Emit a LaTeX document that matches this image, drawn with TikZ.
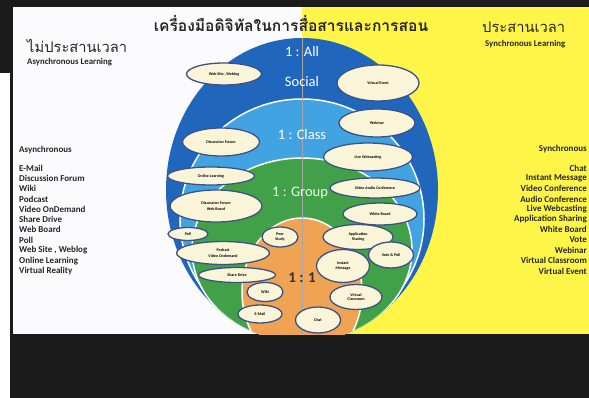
\documentclass[tikz,border=0pt]{standalone}
\usepackage{fontspec}
\setmainfont{Carlito}
\newfontfamily\thaifont[Script=Thai]{Loma}
\usetikzlibrary{shapes.geometric}
\definecolor{darkbg}{HTML}{1B1B1B}
\definecolor{slidewhite}{HTML}{FBFBFD}
\definecolor{slideyellow}{HTML}{FFF548}
\definecolor{blueD}{HTML}{2166BD}
\definecolor{blueL}{HTML}{42A3E3}
\definecolor{greenC}{HTML}{41A148}
\definecolor{orangeC}{HTML}{F0A353}
\definecolor{cream}{HTML}{FAF4D8}
\definecolor{bubedge}{HTML}{3D5283}
\tikzset{
  bub/.style={ellipse, draw=bubedge, line width=1.3pt, fill=cream, inner sep=0pt,
    font=\bfseries\fontsize{4}{4.6}\selectfont, align=center, text=black},
  layerlbl/.style={font=\fontsize{14.5}{14.5}\selectfont, text=white},
  listtxt/.style={font=\bfseries\fontsize{9}{10}\selectfont, inner sep=0pt, text=black!85},
  thaititle/.style={font=\thaifont\fontsize{14.7}{14.7}\selectfont, inner sep=0pt, text=black!85},
  subtitle/.style={font=\bfseries\fontsize{8.8}{9}\selectfont, inner sep=0pt, text=black!85}
}
\begin{document}
\begin{tikzpicture}[x=1pt,y=-1pt]
\useasboundingbox (0,0) rectangle (589,398);
% background
\fill[darkbg] (0,0) rectangle (589,398);
\fill[white] (0,73) rectangle (10,398);
\fill[slidewhite] (13,7) rectangle (302,334);
\fill[slideyellow] (302,7) rectangle (589,334);
% layers
\begin{scope}
  \clip (13,7) rectangle (589,334);
  \fill[blueD] (302,190) ellipse [x radius=136pt, y radius=152pt];
  \clip (302,190) ellipse [x radius=136pt, y radius=152pt];
  \filldraw[fill=blueL, draw=white, line width=1.5pt] (302,219) ellipse [x radius=122pt, y radius=120pt];
  \filldraw[fill=greenC, draw=white, line width=1.5pt] (302,250) ellipse [x radius=110pt, y radius=92pt];
  \filldraw[fill=orangeC, draw=white, line width=1.5pt] (302,292) ellipse [x radius=60pt, y radius=74pt];
  \draw[gray!70, line width=0.5pt] (302,30) -- (302,334);
\end{scope}
% layer labels
\node[layerlbl] (lall) at (302,52) {1 : All};
\node[layerlbl] (lsoc) at (302,82) {Social};
\node[layerlbl] (lcls) at (302,135) {1 : Class};
\node[layerlbl, text=green!10!white] (lgrp) at (300,193) {1 : Group};
\node[font=\bfseries\fontsize{15}{15}\selectfont, text=black!80] (lone) at (302,278) {1 : 1};
% titles
\node[thaititle, font=\thaifont\bfseries\fontsize{15.6}{15.6}\selectfont] (title) at (291,24) {เครื่องมือดิจิทัลในการสื่อสารและการสอน};
\node[thaititle, anchor=west] (ltitle) at (27,46) {ไม่ประสานเวลา};
\node[subtitle, anchor=west] (lsub) at (27,62) {Asynchronous Learning};
\node[thaititle, anchor=west] (rtitle) at (482,27.5) {ประสานเวลา};
\node[subtitle, anchor=west] (rsub) at (485,44.5) {Synchronous Learning};
% left list
\node[listtxt, anchor=west] (lhead) at (19,150) {Asynchronous};
\foreach \t [count=\i from 0] in {E-Mail, Discussion Forum, Wiki, Podcast, Video OnDemand, Share Drive, Web Board, Poll, {Web Site , Weblog}, Online Learning, Virtual Reality}
  \node[listtxt, anchor=west] (la\i) at (19,168+10.3*\i) {\t};
% right list
\node[listtxt, anchor=east] (rhead) at (587,149) {Synchronous};
\foreach \t [count=\i from 0] in {Chat, Instant Message, Video Conference, Audio Conference, Live Webcasting, Application Sharing, White Board, Vote, Webinar, Virtual Classroom, Virtual Event}
  \node[listtxt, anchor=east] (ra\i) at (587,168+10.3*\i) {\t};
% bubbles
\node[bub, minimum width=75pt, minimum height=22pt] (b1) at (224,74) {Web Site , Weblog};
\node[bub, minimum width=82pt, minimum height=36pt] (b2) at (378,83) {Virtual Event};
\node[bub, minimum width=76pt, minimum height=28pt] (b3) at (377,123) {Webinar};
\node[bub, minimum width=77pt, minimum height=28pt] (b4) at (221,142) {Discussion Forum};
\node[bub, minimum width=89pt, minimum height=28pt] (b5) at (368,157) {Live Webcasting};
\node[bub, minimum width=87pt, minimum height=18pt] (b6) at (211,176) {Online Learning};
\node[bub, minimum width=90pt, minimum height=20pt] (b7) at (375,188) {Video Audio Conference};
\node[bub, minimum width=92pt, minimum height=32pt] (b8) at (216,206) {Discussion Forum\\[1pt]Web Board};
\node[bub, minimum width=74pt, minimum height=22pt] (b9) at (380,214) {White Board};
\node[bub, minimum width=40pt, minimum height=13pt] (b10) at (188,234) {Poll};
\node[bub, minimum width=36pt, minimum height=20pt] (b11) at (280,237) {Peer\\Study};
\node[bub, minimum width=70pt, minimum height=25pt] (b12) at (358,237) {Application\\[1pt]Sharing};
\node[bub, minimum width=93pt, minimum height=23pt] (b13) at (223,253) {Podcast\\[1pt]Video Ondemand};
\node[bub, minimum width=45pt, minimum height=26pt] (b14) at (391,255) {Vote \& Poll};
\node[bub, minimum width=53pt, minimum height=33pt] (b15) at (343,266) {Instant\\[1pt]Message};
\node[bub, minimum width=77pt, minimum height=15pt] (b16) at (237,275) {Share Drive};
\node[bub, minimum width=36pt, minimum height=19pt] (b17) at (265,292) {Wiki};
\node[bub, minimum width=52pt, minimum height=25pt] (b18) at (356,297) {Virtual\\Classroom};
\node[bub, minimum width=44pt, minimum height=18pt] (b19) at (260,314) {E-Mail};
\node[bub, minimum width=45pt, minimum height=26pt] (b20) at (318,320) {Chat};
\end{tikzpicture}
\end{document}
